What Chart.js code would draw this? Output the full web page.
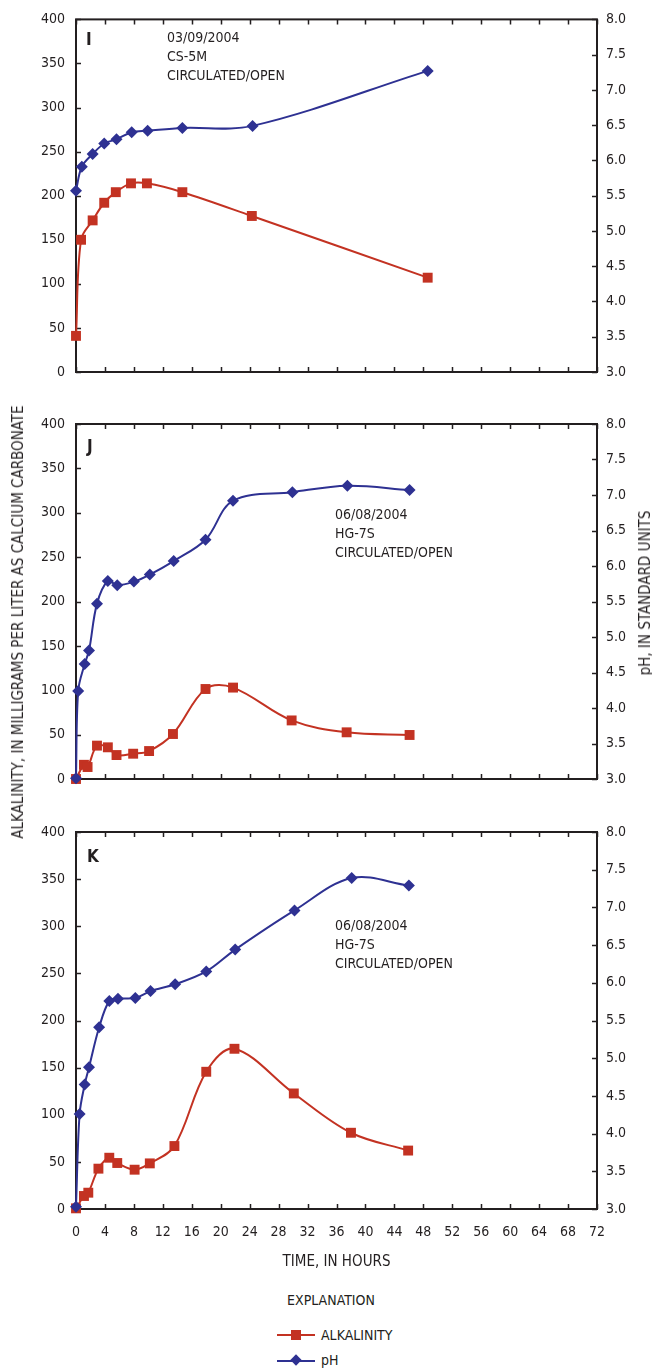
<!DOCTYPE html>
<html>
<head>
<meta charset="utf-8">
<script src="https://cdn.jsdelivr.net/npm/chart.js@4.4.1/dist/chart.umd.min.js"></script>
<style>
  body { margin: 0; background: #fff; }
  #page {
    position: relative;
    width: 652px;
    height: 1372px;
    font-family: "Liberation Sans Narrow", "DejaVu Sans Condensed", "Roboto", sans-serif;
    color: #231f20;
  }
  #page canvas { position: absolute; left: 0; }
  .txt { position: absolute; font-size: 14px; line-height: 19px; white-space: nowrap; }
  .letter { position: absolute; font-size: 17px; font-weight: bold; }
  .vtitle {
    position: absolute;
    font-size: 15px;
    white-space: nowrap;
    transform: translate(-50%, -50%) rotate(-90deg);
  }
  .legline { position: absolute; height: 2px; }
  .legmark { position: absolute; }
</style>
</head>
<body>
<div id="page">
  <canvas id="chartI" width="652" height="392" style="top:0px"></canvas>
  <canvas id="chartJ" width="652" height="400" style="top:400px"></canvas>
  <canvas id="chartK" width="652" height="480" style="top:808px"></canvas>

  <div class="letter" style="left:86px; top:29px;">I</div>
  <div class="txt" style="left:167px; top:28px;">03/09/2004<br>CS-5M<br>CIRCULATED/OPEN</div>

  <div class="letter" style="left:87px; top:436px;">J</div>
  <div class="txt" style="left:335px; top:505px;">06/08/2004<br>HG-7S<br>CIRCULATED/OPEN</div>

  <div class="letter" style="left:87px; top:846px;">K</div>
  <div class="txt" style="left:335px; top:916px;">06/08/2004<br>HG-7S<br>CIRCULATED/OPEN</div>

  <div class="vtitle" style="left:18px; top:622px;">ALKALINITY, IN MILLIGRAMS PER LITER AS CALCIUM CARBONATE</div>
  <div class="vtitle" style="left:645px; top:593px;">pH, IN STANDARD UNITS</div>

  <div class="txt" style="left:331px; top:1291px; transform:translateX(-50%);">EXPLANATION</div>

  <div class="legline" style="left:277px; top:1334px; width:38px; background:#c33222;"></div>
  <div class="legmark" style="left:291px; top:1330px; width:10px; height:10px; background:#c33222;"></div>
  <div class="txt" style="left:321px; top:1326px;">ALKALINITY</div>

  <div class="legline" style="left:277px; top:1360px; width:38px; background:#2e3192;"></div>
  <div class="legmark" style="left:292px; top:1356px; width:8px; height:8px; background:#2e3192; transform:rotate(45deg);"></div>
  <div class="txt" style="left:321px; top:1351px;">pH</div>
</div>

<script>
const FONT = '"Liberation Sans Narrow", "DejaVu Sans Condensed", "Roboto", sans-serif';
const INK = "#231f20";
const RED = "#c33222";
const BLUE = "#2e3192";

// panel I
const hoursAlkI = [0, 0.7, 2.3, 3.9, 5.5, 7.6, 9.8, 14.7, 24.3, 48.6];
const alkI = [41, 150, 172, 192, 204, 214, 214, 204, 177, 107];
const hoursPhI = [0, 0.8, 2.3, 3.9, 5.6, 7.7, 9.9, 14.7, 24.4, 48.6];
const phI = [5.57, 5.91, 6.09, 6.24, 6.3, 6.4, 6.42, 6.46, 6.49, 7.27];

// panel J
const hoursAlkJ = [0, 1.1, 1.6, 2.9, 4.4, 5.6, 7.9, 10.1, 13.4, 17.9, 21.7, 29.8, 37.4, 46.1];
const alkJ = [0, 16, 13.5, 37.6, 35.7, 27, 28.5, 31.5, 50.7, 101.4, 103, 66, 52.6, 49.6];
const hoursPhJ = [0, 0.3, 1.2, 1.8, 2.9, 4.4, 5.7, 8.0, 10.2, 13.5, 17.9, 21.7, 29.9, 37.5, 46.1];
const phJ = [3.01, 4.24, 4.62, 4.81, 5.47, 5.79, 5.73, 5.78, 5.88, 6.07, 6.37, 6.92, 7.04, 7.13, 7.07];

// panel K
const hoursAlkK = [0, 1.1, 1.7, 3.1, 4.6, 5.7, 8.1, 10.2, 13.6, 18.0, 21.9, 30.1, 38.0, 45.9];
const alkK = [0.7, 13.8, 17.3, 42.8, 54.4, 48.8, 41.7, 48.4, 66.8, 145.6, 170, 122.6, 80.9, 62];
const hoursPhK = [0, 0.5, 1.2, 1.8, 3.2, 4.6, 5.8, 8.2, 10.3, 13.7, 18.0, 22.0, 30.2, 38.1, 46.0];
const phK = [3.03, 4.26, 4.65, 4.88, 5.41, 5.76, 5.79, 5.8, 5.89, 5.98, 6.15, 6.44, 6.96, 7.39, 7.29];

// axes
const HOUR_MIN = 0, HOUR_MAX = 72, HOUR_STEP = 4;
const ALK_MIN = 0, ALK_MAX = 400, ALK_STEP = 50;
const PH_MIN = 3, PH_MAX = 8, PH_STEP = 0.5;
const TIME_TITLE = "TIME, IN HOURS";

Chart.defaults.font.family = FONT;
Chart.defaults.font.size = 14;
Chart.defaults.color = INK;

function toPoints(xs, ys) {
  return xs.map((x, i) => ({ x, y: ys[i] }));
}

// box around the plot plus tick marks pointing inward
const frameTicks = {
  id: "frameTicks",
  beforeDatasetsDraw(chart) {
    const { ctx, chartArea: a, scales } = chart;
    const len = 5;
    ctx.save();
    ctx.strokeStyle = INK;
    ctx.lineWidth = 1.5;
    scales.x.ticks.forEach((t) => {
      const px = Math.round(scales.x.getPixelForValue(t.value)) + 0.5;
      ctx.beginPath();
      ctx.moveTo(px, a.bottom);
      ctx.lineTo(px, a.bottom - len);
      ctx.moveTo(px, a.top);
      ctx.lineTo(px, a.top + len);
      ctx.stroke();
    });
    scales.y.ticks.forEach((t) => {
      const py = Math.round(scales.y.getPixelForValue(t.value)) + 0.5;
      ctx.beginPath();
      ctx.moveTo(a.left, py);
      ctx.lineTo(a.left + len, py);
      ctx.stroke();
    });
    scales.y1.ticks.forEach((t) => {
      const py = Math.round(scales.y1.getPixelForValue(t.value)) + 0.5;
      ctx.beginPath();
      ctx.moveTo(a.right, py);
      ctx.lineTo(a.right - len, py);
      ctx.stroke();
    });
    ctx.lineWidth = 2;
    ctx.strokeRect(a.left, a.top, a.right - a.left, a.bottom - a.top);
    ctx.restore();
  },
};

function makePanel(canvasId, alkHours, alk, phHours, ph, opts) {
  return new Chart(document.getElementById(canvasId), {
    type: "line",
    data: {
      datasets: [
        {
          label: "pH",
          data: toPoints(phHours, ph),
          yAxisID: "y1",
          order: 0,
          borderColor: BLUE,
          backgroundColor: BLUE,
          borderWidth: 2,
          tension: 0.35,
          pointStyle: "rectRot",
          pointRadius: 6,
          pointBorderWidth: 0,
          clip: false,
        },
        {
          label: "ALKALINITY",
          data: toPoints(alkHours, alk),
          yAxisID: "y",
          order: 1,
          borderColor: RED,
          backgroundColor: RED,
          borderWidth: 2,
          tension: 0.35,
          pointStyle: "rect",
          pointRadius: 7,
          pointBorderWidth: 0,
          clip: false,
        },
      ],
    },
    options: {
      responsive: false,
      animation: false,
      events: [],
      layout: { padding: { top: opts.padTop, left: 0, right: 0, bottom: 0 } },
      plugins: { legend: { display: false }, tooltip: { enabled: false } },
      scales: {
        x: {
          type: "linear",
          min: HOUR_MIN,
          max: HOUR_MAX,
          grid: { display: false, drawTicks: false },
          border: { display: false },
          ticks: { stepSize: HOUR_STEP, display: opts.showTime, padding: 15, maxRotation: 0, autoSkip: false },
          title: {
            display: opts.showTime,
            text: TIME_TITLE,
            font: { size: 15 },
            padding: { top: 0, bottom: 17 },
          },
          afterFit(scale) {
            scale.height = opts.xHeight;
          },
        },
        y: {
          type: "linear",
          position: "left",
          min: ALK_MIN,
          max: ALK_MAX,
          grid: { display: false, drawTicks: false },
          border: { display: false },
          ticks: { stepSize: ALK_STEP, padding: 11 },
          afterFit(scale) {
            scale.width = 76;
          },
        },
        y1: {
          type: "linear",
          position: "right",
          min: PH_MIN,
          max: PH_MAX,
          grid: { display: false, drawTicks: false },
          border: { display: false },
          ticks: {
            stepSize: PH_STEP,
            padding: 9,
            callback: (v) => Number(v).toFixed(1),
          },
          afterFit(scale) {
            scale.width = 55;
          },
        },
      },
    },
    plugins: [frameTicks],
  });
}

makePanel("chartI", hoursAlkI, alkI, hoursPhI, phI, { padTop: 18, xHeight: 20, showTime: false });
makePanel("chartJ", hoursAlkJ, alkJ, hoursPhJ, phJ, { padTop: 24, xHeight: 21, showTime: false });
makePanel("chartK", hoursAlkK, alkK, hoursPhK, phK, { padTop: 24, xHeight: 79, showTime: true });
</script>
</body>
</html>
